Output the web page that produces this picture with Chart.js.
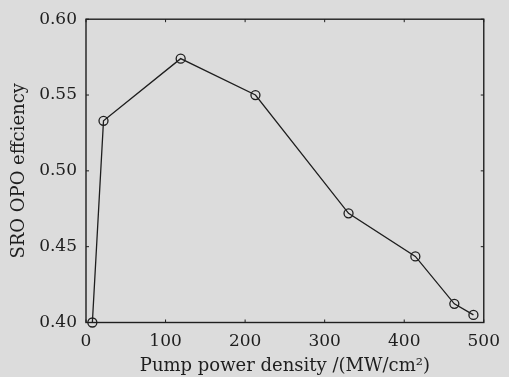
<!DOCTYPE html>
<html>
<head>
<meta charset="utf-8">
<script src="https://cdn.jsdelivr.net/npm/chart.js@4.4.1/dist/chart.umd.min.js"></script>
<style>
  html, body { margin: 0; padding: 0; background: #dcdcdc; }
  #wrap { width: 509px; height: 377px; position: relative; }
</style>
</head>
<body>
<div id="wrap"><canvas id="c" width="509" height="377"></canvas></div>
<script>
const pumpDensity = [8, 22, 119, 213, 330, 414, 463, 487];
const efficiency = [0.400, 0.533, 0.574, 0.550, 0.472, 0.4436, 0.4123, 0.405];
const xTicks = [0, 100, 200, 300, 400, 500];
const yTicks = [0.40, 0.45, 0.50, 0.55, 0.60];
const xTitle = 'Pump power density /(MW/cm\u00B2)';
const yTitle = 'SRO OPO effciency';

const serif = '"DejaVu Serif", "Liberation Serif", serif';
const ink = '#1e1e1e';

const framePlugin = {
  id: 'frame',
  beforeDraw(chart) {
    const ctx = chart.ctx;
    ctx.save();
    ctx.fillStyle = '#dcdcdc';
    ctx.fillRect(0, 0, chart.width, chart.height);
    ctx.restore();
  },
  afterDatasetsDraw(chart) {
    const {ctx, chartArea: a, scales} = chart;
    ctx.save();
    ctx.strokeStyle = ink;
    ctx.lineWidth = 1.4;
    ctx.strokeRect(a.left, a.top, a.right - a.left, a.bottom - a.top);
    ctx.lineWidth = 1;
    const t = 3;
    xTicks.forEach(v => {
      const x = scales.x.getPixelForValue(v);
      ctx.beginPath();
      ctx.moveTo(x, a.bottom); ctx.lineTo(x, a.bottom - t);
      ctx.moveTo(x, a.top); ctx.lineTo(x, a.top + t);
      ctx.stroke();
    });
    yTicks.forEach(v => {
      const y = scales.y.getPixelForValue(v);
      ctx.beginPath();
      ctx.moveTo(a.left, y); ctx.lineTo(a.left + t, y);
      ctx.moveTo(a.right, y); ctx.lineTo(a.right - t, y);
      ctx.stroke();
    });
    ctx.restore();
  }
};

new Chart(document.getElementById('c'), {
  type: 'line',
  data: {
    datasets: [{
      data: pumpDensity.map((x, i) => ({x: x, y: efficiency[i]})),
      borderColor: ink,
      borderWidth: 1.3,
      pointRadius: 4.5,
      pointBorderWidth: 1.3,
      pointBackgroundColor: 'rgba(0,0,0,0)',
      pointBorderColor: ink,
      tension: 0,
      clip: false
    }]
  },
  options: {
    responsive: false,
    animation: false,
    layout: { padding: { left: 0, right: 20, top: 18, bottom: 0 } },
    plugins: { legend: { display: false }, tooltip: { enabled: false } },
    scales: {
      x: {
        type: 'linear',
        min: 0, max: 500,
        afterBuildTicks(s) { s.ticks = xTicks.map(v => ({value: v})); },
        afterFit(s) { s.height = 54.5; },
        grid: { display: false, drawTicks: false },
        border: { display: false },
        ticks: { padding: 9, color: ink, font: { family: serif, size: 17 }, maxRotation: 0 },
        title: { display: true, text: xTitle, color: ink, font: { family: serif, size: 18 }, padding: { top: 0, bottom: 0 } }
      },
      y: {
        type: 'linear',
        min: 0.40, max: 0.60,
        afterBuildTicks(s) { s.ticks = yTicks.map(v => ({value: v})); },
        afterFit(s) { s.width = 86; },
        grid: { display: false, drawTicks: false },
        border: { display: false },
        ticks: { padding: 9, color: ink, font: { family: serif, size: 17 }, callback: v => v.toFixed(2) },
        title: { display: true, text: yTitle, color: ink, font: { family: serif, size: 18 }, padding: { top: 9, bottom: 0 } }
      }
    }
  },
  plugins: [framePlugin]
});
</script>
</body>
</html>
